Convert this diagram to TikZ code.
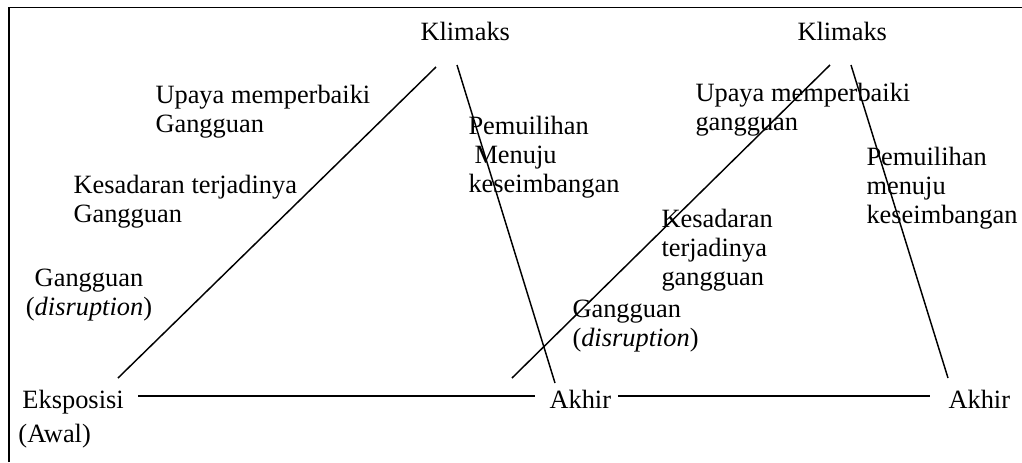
\documentclass[tikz,border=0pt]{standalone}
\usepackage{fontspec}
\setmainfont{Liberation Serif}
\usepackage{tikz}
\tikzset{every picture/.style={line width=0.75pt}}
\tikzset{lbl/.style={inner sep=0pt, align=left, font=\fontsize{19.8}{21.75}\selectfont}}

\begin{document}
\begin{tikzpicture}[x=0.75pt,y=0.75pt,yscale=-1,xscale=1]
      \useasboundingbox (0,0) rectangle (1022,462);
      % frame
      \draw [line width=1.2] (9,462) -- (9,7.5) -- (1022,7.5);
      % corners of the two triangles
      \coordinate (topL1) at (436,67);
      \coordinate (botL1) at (118,378);
      \coordinate (topR1) at (457,65);
      \coordinate (botR1) at (555,383);
      \coordinate (topL2) at (830,65);
      \coordinate (botL2) at (512,378);
      \coordinate (topR2) at (851,65);
      \coordinate (botR2) at (948,378);
      \coordinate (base1a) at (138,396);
      \coordinate (base1b) at (535,396);
      \coordinate (base2a) at (618,396);
      \coordinate (base2b) at (930,396);
      \draw [line width=1.1] (topL1) -- (botL1);
      \draw [line width=1.1] (topR1) -- (botR1);
      \draw [line width=1.1] (topL2) -- (botL2);
      \draw [line width=1.1] (topR2) -- (botR2);
      \draw [line width=1.1] (base1a) -- (base1b);
      \draw [line width=1.1] (base2a) -- (base2b);
      % labels (base = last line)
      \draw (420,40) node (klimaks1) [anchor=base west][lbl] {Klimaks};
      \draw (797,40) node (klimaks2) [anchor=base west][lbl] {Klimaks};
      \draw (155,132) node (upaya1) [anchor=base west][lbl] {Upaya memperbaiki\\Gangguan};
      \draw (73,222) node (sadar1) [anchor=base west][lbl] {Kesadaran terjadinya\\Gangguan};
      \draw (89,315) node (ganggu1) [anchor=base][lbl][align=center] {Gangguan\\(\textit{disruption})};
      \draw (22,408) node (ekspo) [anchor=base west][lbl] {Eksposisi};
      \draw (18,442) node (awal) [anchor=base west][lbl] {(Awal)};
      \draw (468,192) node (pulih1) [anchor=base west][lbl] {Pemuilihan\\\hspace*{4.5pt}Menuju\\keseimbangan};
      \draw (549,408) node (akhir1) [anchor=base west][lbl] {Akhir};
      \draw (948,408) node (akhir2) [anchor=base west][lbl] {Akhir};
      \draw (695,130) node (upaya2) [anchor=base west][lbl] {Upaya memperbaiki\\gangguan};
      \draw (661,285) node (sadar2) [anchor=base west][lbl] {Kesadaran\\terjadinya\\gangguan};
      \draw (572,346) node (ganggu2) [anchor=base west][lbl] {Gangguan\\(\textit{disruption})};
      \draw (866,223) node (pulih2) [anchor=base west][lbl] {Pemuilihan\\menuju\\keseimbangan};
\end{tikzpicture}
\end{document}
